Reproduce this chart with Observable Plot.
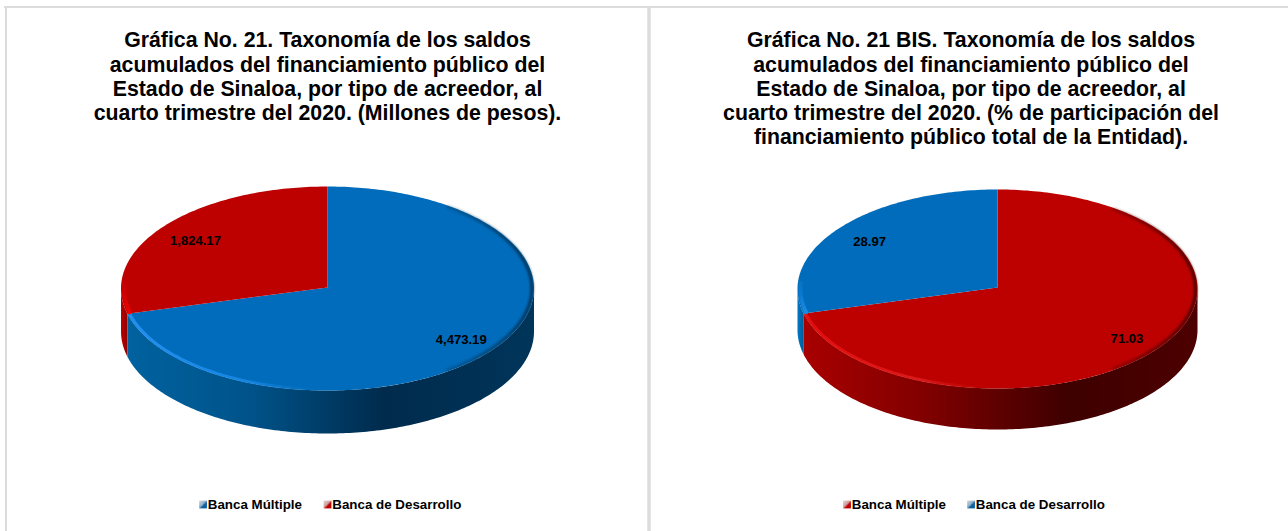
<!DOCTYPE html>
<html lang="es">
<head>
<meta charset="utf-8">
<style>html,body{margin:0;padding:0;background:#fff}svg{display:block}</style>
<script src="https://cdn.jsdelivr.net/npm/d3@7"></script>
<script src="https://cdn.jsdelivr.net/npm/@observablehq/plot@0.6"></script>
</head>
<body>
<div id="chart"></div>
<script>
const categories = ["Banca Múltiple", "Banca de Desarrollo"];
const valuesLeft = [4473.19, 1824.17];
const valuesRight = [71.03, 28.97];
const titleLeft = [
  "Gráfica No. 21. Taxonomía de los saldos",
  "acumulados del financiamiento público del",
  "Estado de Sinaloa, por tipo de acreedor, al",
  "cuarto trimestre del 2020. (Millones de pesos)."
];
const titleRight = [
  "Gráfica No. 21 BIS. Taxonomía de los saldos",
  "acumulados del financiamiento público del",
  "Estado de Sinaloa, por tipo de acreedor, al",
  "cuarto trimestre del 2020. (% de participación del",
  "financiamiento público total de la Entidad)."
];
const BLUE = "#006cbb", RED = "#bd0000";

const W = 1288, H = 531;
const FONT = "Liberation Sans, Arial, sans-serif";

// layout of each panel
const panels = [
  {id: "L", values: valuesLeft, colors: [BLUE, RED], cx: 327, cy: 288, apexY: 287, rx: 206.5, ry: 102, depth: 43,
   fmt: d3.format(",.2f"), title: titleLeft, titleX: 327, titleY: 40, legendX: [202.5, 327]},
  {id: "R", values: valuesRight, colors: [RED, BLUE], cx: 997, cy: 288.5, apexY: 287, rx: 200, ry: 99.5, depth: 41,
   fmt: d3.format(".2f"), title: titleRight, titleX: 970.5, titleY: 40, legendX: [846.5, 970.5]}
];

const TAU = Math.PI * 2;
const ell = (p, a, k = 1, dy = 0) => ({x: p.cx + p.rx * k * Math.sin(a), y: p.cy - p.ry * k * Math.cos(a) + dy});
const arc = (p, a0, a1, k = 1, dy = 0) => {
  const n = Math.max(2, Math.ceil(Math.abs(a1 - a0) * 60));
  return d3.range(n + 1).map(i => ell(p, a0 + (a1 - a0) * i / n, k, dy));
};
const slices = p => {
  const total = d3.sum(p.values);
  let a = 0;
  return p.values.map((v, i) => {
    const a0 = a; a += v / total * TAU;
    return {i, v, a0, a1: a, mid: (a0 + a) / 2, color: p.colors[i], cat: categories[i]};
  });
};

const gid = {"#006cbb": "B", "#bd0000": "R"};
const marks = [];

// gradients
marks.push(() => {
  const ns = "http://www.w3.org/2000/svg";
  const defs = document.createElementNS(ns, "defs");
  const grad = (id, x1, x2, stops, y1 = 0, y2 = 0, bbox = false) => {
    const g = document.createElementNS(ns, "linearGradient");
    g.setAttribute("id", id);
    g.setAttribute("gradientUnits", bbox ? "objectBoundingBox" : "userSpaceOnUse");
    g.setAttribute("x1", x1); g.setAttribute("x2", x2);
    g.setAttribute("y1", y1); g.setAttribute("y2", y2);
    for (const [o, c, op] of stops) {
      const s = document.createElementNS(ns, "stop");
      s.setAttribute("offset", o); s.setAttribute("stop-color", c);
      if (op != null) s.setAttribute("stop-opacity", op);
      g.appendChild(s);
    }
    defs.appendChild(g);
  };
  grad("sideB_L", 127, 533, [[0, "#00629f"], [0.3, "#00538a"], [0.63, "#002b4d"], [1, "#00355a"]]);
  grad("sideR_L", 120, 127, [[0, "#c00000"], [1, "#900000"]]);
  grad("sideR_R", 803, 1197, [[0, "#a80000"], [0.3, "#820000"], [0.67, "#3e0000"], [1, "#4d0000"]]);
  grad("sideB_R", 797, 804, [[0, "#0077c8"], [1, "#00588f"]]);
  grad("rimFrontB", 127, 335, [[0, "#2a9aff"], [0.6, "#1a8ae6"], [1, "#006cbb", 0]]);
  grad("rimFrontR", 803, 1000, [[0, "#f01010"], [0.6, "#e02020"], [1, "#bd0000", 0]]);
  grad("rimDarkB", 400, 533, [[0, "#003050", 0], [0.6, "#003050", 0.6], [1, "#002a48", 1]]);
  grad("rimDarkR", 1060, 1197, [[0, "#400000", 0], [0.6, "#400000", 0.6], [1, "#380000", 1]]);
  grad("rimBackB", 0, 0, [[0, "#1a8ae6"], [1, "#006cbb", 0]], 312, 255);
  grad("rimBackR", 0, 0, [[0, "#ee0000"], [1, "#bd0000", 0]], 312, 255);
  grad("swB", 0, 1, [[0, "#d5dbe0"], [0.45, "#8fb0c8"], [0.62, "#0a5f9e"], [1, "#0a5f9e"]], 0, 1, true);
  grad("swR", 0, 1, [[0, "#e0d6d6"], [0.45, "#d0a0a0"], [0.62, "#bd0000"], [1, "#bd0000"]], 0, 1, true);
  return defs;
});

// frame
marks.push(
  Plot.ruleY([6.5], {x1: 4, x2: W, stroke: "#dcdcdc", strokeWidth: 2}),
  Plot.ruleX([5.5], {y1: 6, y2: H, stroke: "#dcdcdc", strokeWidth: 2}),
  Plot.ruleX([648.5], {y1: 6, y2: H, stroke: "#dcdcdc", strokeWidth: 3.5})
);

for (const p of panels) {
  const sl = slices(p);
  const [big, small] = sl;
  const side = (a0, a1) => [...arc(p, a0, a1), ...arc(p, a1, a0, 1, p.depth)];
  // walls: back (left, small slice) first, then the visible front of the big slice
  const wallName = c => `url(#side${gid[c]}_${p.id})`;
  marks.push(
    Plot.line(side(big.a1, TAU * 0.75), {x: "x", y: "y", fill: wallName(small.color), stroke: "none"}),
    Plot.line(side(Math.PI / 2, big.a1), {x: "x", y: "y", fill: wallName(big.color), stroke: "none"})
  );
  // top faces
  for (const s of sl) {
    const pts = [{x: p.cx, y: p.apexY}, ...arc(p, s.a0, s.a1)];
    marks.push(Plot.line(pts, {x: "x", y: "y", fill: s.color, stroke: "none"}));
  }
  // rim bevels
  const g = gid[big.color];
  const sg = gid[small.color];
  marks.push(
    Plot.line(arc(p, big.a1 - 0.01, Math.PI * 0.95, 0.99), {x: "x", y: "y", stroke: `url(#rimFront${g})`, strokeWidth: 3, strokeOpacity: 0.8, imageFilter: "blur(0.6px)"}),
    Plot.line(arc(p, Math.PI * 0.8, Math.PI * 0.2, 0.99), {x: "x", y: "y", stroke: `url(#rimDark${g})`, strokeWidth: 3.5, strokeOpacity: 0.8, imageFilter: "blur(1px)"}),
    Plot.line(arc(p, big.a1 + 0.01, TAU * 0.76, 0.985), {x: "x", y: "y", stroke: `url(#rimBack${sg})`, strokeWidth: 4, imageFilter: "blur(0.6px)"})
  );
  // value labels, placed along each slice's middle angle
  const labelKx = [0.82, 0.81], labelKy = [0.82, 0.77];
  marks.push(Plot.text(sl, {
    x: s => ell(p, s.mid, labelKx[s.i]).x,
    y: s => ell(p, s.mid, labelKy[s.i]).y,
    text: s => p.fmt(s.v),
    fontFamily: FONT, fontWeight: "bold", fontSize: 13.1, fill: "#000"
  }));
  // title
  marks.push(Plot.text(p.title, {
    x: () => p.titleX,
    y: (d, i) => p.titleY + i * 24.2,
    text: d => d,
    fontFamily: FONT, fontWeight: "bold", fontSize: 21.3, fill: "#000"
  }));
  // legend
  const legend = categories.map((c, i) => ({c, i, x: p.legendX[i], color: p.colors[i]}));
  marks.push(
    Plot.dot(legend, {x: "x", y: () => 504, symbol: "square", r: 4.4, stroke: "none",
      fill: d => `url(#sw${gid[d.color]})`}),
    Plot.text(legend, {
      x: d => d.x + 4.8, y: () => 504, text: "c", textAnchor: "start",
      fontFamily: FONT, fontWeight: "bold", fontSize: 13.35, fill: "#000"
    })
  );
}

const chart = Plot.plot({
  width: W, height: H,
  margin: 0,
  x: {domain: [0, W], range: [0, W], axis: null},
  y: {domain: [0, H], range: [0, H], axis: null},
  color: {type: "identity"},
  style: {background: "#fff", fontFamily: FONT},
  marks
});
document.getElementById("chart").appendChild(chart);
</script>
</body>
</html>
